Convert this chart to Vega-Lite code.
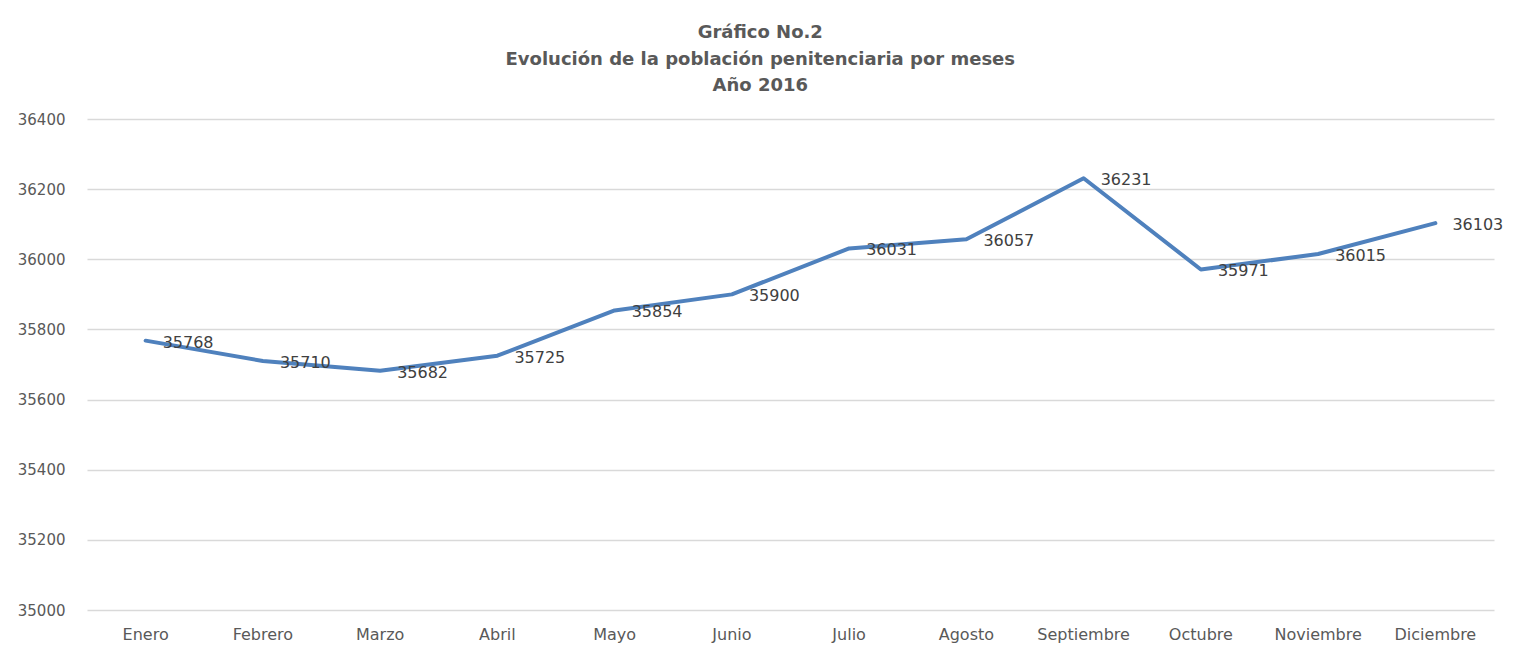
{
  "$schema": "https://vega.github.io/schema/vega-lite/v6.json",
  "autosize": "none",
  "width": 1407,
  "height": 491,
  "padding": {"left": 87, "top": 119, "right": 25, "bottom": 44},
  "background": "white",
  "title": {
    "text": ["Gráfico No.2", "Evolución de la población penitenciaria por meses", "Año 2016"],
    "font": "DejaVu Sans",
    "fontSize": 18,
    "fontWeight": "bold",
    "color": "#595959",
    "lineHeight": 26.5,
    "anchor": "middle",
    "frame": "bounds",
    "offset": 17
  },
  "data": {
    "values": [
      {"mes": "Enero", "poblacion": 35768},
      {"mes": "Febrero", "poblacion": 35710},
      {"mes": "Marzo", "poblacion": 35682},
      {"mes": "Abril", "poblacion": 35725},
      {"mes": "Mayo", "poblacion": 35854},
      {"mes": "Junio", "poblacion": 35900},
      {"mes": "Julio", "poblacion": 36031},
      {"mes": "Agosto", "poblacion": 36057},
      {"mes": "Septiembre", "poblacion": 36231},
      {"mes": "Octubre", "poblacion": 35971},
      {"mes": "Noviembre", "poblacion": 36015},
      {"mes": "Diciembre", "poblacion": 36103}
    ]
  },
  "encoding": {
    "x": {
      "field": "mes",
      "type": "nominal",
      "sort": null,
      "scale": {"type": "band", "paddingInner": 0, "paddingOuter": 0},
      "axis": {
        "title": null,
        "labelAngle": 0,
        "ticks": false,
        "domain": false,
        "grid": false,
        "labelFont": "DejaVu Sans",
        "labelFontSize": 16,
        "labelColor": "#595959",
        "labelPadding": 16
      }
    },
    "y": {
      "field": "poblacion",
      "type": "quantitative",
      "scale": {"domain": [35000, 36400], "zero": false, "nice": false},
      "axis": {
        "title": null,
        "values": [35000, 35200, 35400, 35600, 35800, 36000, 36200, 36400],
        "format": "d",
        "ticks": false,
        "domain": false,
        "grid": true,
        "gridColor": "#D9D9D9",
        "gridWidth": 1.3,
        "labelFont": "DejaVu Sans",
        "labelFontSize": 15,
        "labelColor": "#595959",
        "labelPadding": 22
      }
    }
  },
  "layer": [
    {
      "mark": {"type": "line", "color": "#4F81BD", "strokeWidth": 4, "strokeCap": "round", "strokeJoin": "round"}
    },
    {
      "mark": {"type": "text", "align": "left", "baseline": "middle", "dx": 17, "dy": 2, "font": "DejaVu Sans", "fontSize": 16, "color": "#404040"},
      "encoding": {"text": {"field": "poblacion", "type": "quantitative", "format": "d"}}
    }
  ],
  "config": {"view": {"stroke": null}}
}
